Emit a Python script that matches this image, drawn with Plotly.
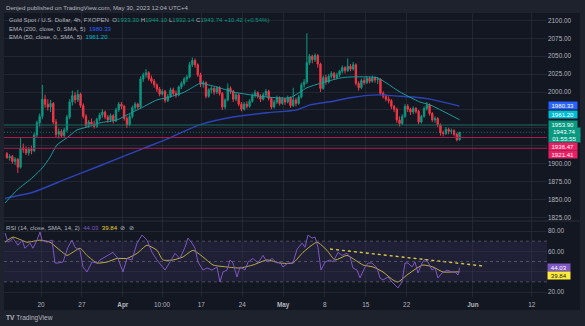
import numpy as np
import plotly.graph_objects as go

# ---- XAUUSD 4h (three bars per trading day), x = trading days from Mon 20 Mar 2023 ----
opens = [
    1914,
    1908, 1910, 1903,  1906, 1895, 1922,  1920, 1915, 1920,  1918, 1940, 1957,
    1966, 1990, 1983,  1979, 1984, 1958,  1941, 1945, 1939,  1947, 1965, 1986,
    1995, 1989, 1997,  1981, 1966, 1953,  1958, 1955, 1952,  1962, 1968, 1972,
    1965, 1961, 1967,  1960, 1975, 1983,  1980, 1963, 1954,  1966, 1978, 1983,
    1979, 2018, 2024,  2027, 2019, 2015,  2010, 2004, 1997,  2001, 1988, 1994,
    2003, 1998, 1996,  2007, 2012, 2018,  2021, 2038, 2044,  2038, 2024, 2011,
    2013, 1994, 2003,  2005, 2000, 2006,  1998, 1979, 1989,  2005, 2001, 1990,
    1996, 1983, 1976,  1983, 1980, 1987,  1995, 1999, 1994,  1990, 1996, 2001,
    1991, 1979, 1986,  1992, 1984, 1990,  1986, 1992, 1981,  1989, 1984, 1993,
    2010, 2014, 2041,  2050, 2045, 2051,  2039, 2005, 2020,  2014, 2022, 2026,
    2020, 2024, 2029,  2034, 2030, 2036,  2032, 2038, 2012,  2006, 2016, 2013,
    2019, 2015, 2020,  2017, 2018, 1998,  1994, 1990, 1988,  1980, 1976, 1961,
    1956, 1966, 1980,  1976, 1972, 1977,  1973, 1958, 1966,  1977, 1982, 1970,
    1961, 1963, 1954,  1943, 1942, 1948,  1945, 1946, 1941,
    1933.30,
]
highs = [
    1916,
    1913, 1912, 1909,  1908, 1937, 1928,  1924, 1923, 1925,  1943, 1960, 1970,
    2010, 1996, 1990,  1989, 1986, 1962,  1949, 1948, 1950,  1968, 1990, 2002,
    2000, 2003, 1999,  1984, 1969, 1961,  1963, 1960, 1964,  1971, 1976, 1974,
    1968, 1970, 1969,  1978, 1986, 1986,  1982, 1966, 1969,  1981, 1986, 1985,
    2022, 2027, 2032,  2029, 2023, 2018,  2012, 2007, 2004,  2003, 1997, 2006,
    2006, 2002, 2009,  2015, 2021, 2024,  2042, 2048, 2047,  2040, 2027, 2016,
    2015, 2005, 2008,  2007, 2008, 2008,  2000, 1991, 2012,  2008, 2003, 1999,
    1998, 1986, 1986,  1987, 1990, 1998,  2003, 2001, 1997,  1999, 2004, 2003,
    1993, 1989, 1995,  1994, 1993, 1992,  1995, 1994, 2006,  1992, 1996, 2013,
    2018, 2082, 2053,  2052, 2054, 2053,  2041, 2023, 2024,  2025, 2029, 2028,
    2027, 2031, 2037,  2036, 2047, 2039,  2042, 2040, 2015,  2019, 2020, 2022,
    2021, 2023, 2022,  2021, 2019, 2001,  1997, 1994, 1990,  1982, 1978, 1966,
    1969, 1983, 1983,  1978, 1980, 1979,  1975, 1968, 1980,  1986, 1984, 1972,
    1966, 1965, 1956,  1946, 1951, 1950,  1949, 1948, 1943,
    1944.10,
]
lows = [
    1907,
    1904, 1900, 1898,  1887, 1893, 1915,  1912, 1911, 1913,  1916, 1936, 1952,
    1962, 1978, 1974,  1972, 1955, 1936,  1935, 1936, 1937,  1944, 1962, 1981,
    1984, 1986, 1978,  1963, 1950, 1950,  1952, 1949, 1950,  1959, 1964, 1962,
    1957, 1958, 1956,  1958, 1972, 1976,  1960, 1950, 1952,  1963, 1974, 1976,
    1977, 2014, 2020,  2016, 2012, 2006,  2000, 1994, 1995,  1985, 1986, 1992,
    1995, 1992, 1994,  2004, 2009, 2014,  2019, 2035, 2034,  2021, 2007, 2006,
    1991, 1992, 1998,  1996, 1997, 1995,  1975, 1976, 1987,  1997, 1986, 1987,
    1980, 1973, 1974,  1977, 1978, 1985,  1992, 1991, 1986,  1988, 1993, 1988,
    1976, 1977, 1983,  1981, 1982, 1982,  1984, 1978, 1979,  1980, 1982, 1991,
    2006, 2011, 2038,  2040, 2042, 2034,  2000, 2003, 2010,  2012, 2019, 2017,
    2018, 2021, 2026,  2026, 2028, 2029,  2030, 2009, 2002,  2004, 2010, 2011,
    2012, 2013, 2013,  2011, 1996, 1991,  1987, 1984, 1976,  1972, 1957, 1952,
    1954, 1964, 1972,  1968, 1969, 1970,  1955, 1956, 1964,  1974, 1967, 1958,
    1957, 1951, 1939,  1938, 1940, 1941,  1941, 1938, 1931,
    1932.14,
]
closes = [
    1908,
    1910, 1903, 1906,  1895, 1922, 1920,  1915, 1920, 1918,  1940, 1957, 1966,
    1990, 1983, 1979,  1984, 1958, 1941,  1945, 1939, 1947,  1965, 1986, 1995,
    1989, 1997, 1981,  1966, 1953, 1958,  1955, 1952, 1962,  1968, 1972, 1965,
    1961, 1967, 1960,  1975, 1983, 1980,  1963, 1954, 1966,  1978, 1983, 1979,
    2018, 2024, 2027,  2019, 2015, 2010,  2004, 1997, 2001,  1988, 1994, 2003,
    1998, 1996, 2007,  2012, 2018, 2021,  2038, 2044, 2038,  2024, 2011, 2013,
    1994, 2003, 2005,  2000, 2006, 1998,  1979, 1989, 2005,  2001, 1990, 1996,
    1983, 1976, 1983,  1980, 1987, 1995,  1999, 1994, 1990,  1996, 2001, 1991,
    1979, 1986, 1992,  1984, 1990, 1986,  1992, 1981, 1989,  1984, 1993, 2010,
    2014, 2041, 2050,  2045, 2051, 2039,  2005, 2020, 2014,  2022, 2026, 2020,
    2024, 2029, 2034,  2030, 2036, 2032,  2038, 2012, 2006,  2016, 2013, 2019,
    2015, 2020, 2017,  2018, 1998, 1994,  1990, 1988, 1980,  1976, 1961, 1956,
    1966, 1980, 1976,  1972, 1977, 1973,  1958, 1966, 1977,  1982, 1970, 1961,
    1963, 1954, 1943,  1942, 1948, 1945,  1946, 1941, 1933.30,
    1943.74,
]
bar_time = np.arange(len(closes)) / 3 - 25 / 6

# EMA 200 / EMA 50 (close)
ema200_t = [-4.40, -3.79, -0.98, 3.18, 7.21, 12.47, 15.77, 19.19, 23.47, 27.63, 31.30,
            32.89, 35.70, 37.78, 41.08, 43.89, 45.48, 47.56, 51.17]
ema200_v = [1851.5, 1853, 1860, 1879, 1897, 1921, 1936, 1953.5, 1965, 1971, 1975,
            1982, 1987, 1992, 1996, 1994, 1993, 1990, 1980.33]
ema50_t = [-4.40, -2.93, -0.98, 0.24, 1.10, 1.96, 3.18, 4.40, 5.62, 7.21, 9.29, 10.51,
           12.47, 14.18, 15.40, 17.36, 19.07, 19.44, 21.52, 23.47, 27.63, 30.44, 32.52,
           34.11, 36.55, 37.78, 41.08, 42.30, 43.89, 46.33, 47.56, 51.17]
ema50_v = [1845, 1863, 1881, 1895, 1909, 1926, 1936, 1947, 1951, 1957, 1961, 1968,
           1979, 1989, 1992, 1999, 2010, 2012, 2007, 2000, 1993, 1992, 2006,
           2012, 2019.5, 2021, 2020, 2012, 2000, 1986, 1982, 1961.20]

# RSI (14) and its SMA (14)
rsi_t = [-4.40, -4.03, -3.42, -2.81, -2.32, -1.96, -1.34, -0.98, -0.49, -0.12, 0.12, 0.73,
         1.34, 1.71, 2.08, 2.69, 3.30, 3.79, 4.16, 4.77, 5.13, 5.62, 6.23, 6.85, 7.21,
         8.07, 8.80, 9.41, 10.02, 10.51, 11.12, 11.74, 12.35, 12.96, 13.57, 14.18, 14.79,
         15.16, 15.77, 16.38, 16.99, 17.60, 17.97, 18.46, 18.83, 19.19, 19.80, 20.29,
         20.90, 21.52, 21.88, 22.25, 22.74, 23.11, 23.47, 23.96, 24.33, 24.94, 25.31,
         25.92, 26.53, 27.14, 27.63, 28.24, 28.85, 29.21, 29.58, 30.19, 30.80, 31.30,
         31.91, 32.27, 32.64, 33.13, 33.50, 33.86, 34.23, 34.72, 35.33, 35.70, 36.31,
         36.80, 37.41, 37.78, 38.14, 38.63, 39.00, 39.61, 39.98, 40.46, 41.08, 41.44,
         41.81, 42.42, 42.91, 43.52, 43.64, 44.13, 44.50, 44.87, 45.35, 45.72, 46.09,
         46.58, 46.94, 47.31, 47.80, 48.17, 48.53, 49.02, 49.63, 50.24, 50.61, 50.98, 51.17]
rsi_v = [78, 69, 73, 66, 71, 63, 68, 63, 71, 79, 71, 69,
         71, 48.5, 48.5, 49.5, 64, 71, 64, 61, 44.6, 39.7, 49.5, 48.5, 51.5,
         56, 59, 53, 39.7, 53, 51.5, 68, 76, 71, 59, 51.5, 44.6,
         41.6, 49.5, 58, 53, 64, 73, 68, 63, 49.5, 41.6, 43.6,
         41.6, 44.6, 29.8, 39.7, 41.6, 51.5, 48.5, 34.8, 44.6, 41.6, 49.5,
         53, 48.5, 56, 49.5, 53, 48.5, 49.5, 44.6, 48.5, 48.5, 62,
         68, 64, 76, 73, 74, 64, 41.6, 49.5, 51.5, 49.5, 59,
         56, 58, 54.5, 43.6, 41.6, 33.8, 44.6, 48.5, 48.5, 43.6, 33.8,
         31.8, 34.8, 29.8, 25, 24, 29.8, 48.5, 48.5, 44.6, 49.5, 38.7,
         48.5, 52.5, 49.5, 41.6, 43.6, 33.8, 38.7, 41.6, 39.7, 39.7, 36.7, 44.03]
rsi_ma_t = [-4.40, -3.42, -1.71, -0.12, 1.10, 2.32, 3.18, 4.77, 5.62, 6.85, 8.07, 9.29,
            10.51, 11.74, 12.96, 14.18, 14.91, 16.14, 17.36, 18.58, 19.80, 21.03, 22.74,
            24.33, 25.92, 27.63, 29.22, 30.80, 32.03, 33.74, 34.96, 35.94, 37.41, 38.39,
            39.36, 40.59, 41.81, 43.03, 43.64, 44.74, 45.97, 46.70, 47.92, 49.14, 50.37, 51.17]
rsi_ma_v = [69, 74, 69, 71, 69, 61, 56, 63, 56, 48.5, 49.5, 53,
            53, 58, 66, 61, 51.5, 51.5, 54.5, 61, 54.5, 46.6, 44.6,
            43.6, 46.6, 51.5, 48.5, 48.5, 59, 69, 61, 51.5, 56, 51.5,
            46.6, 44.6, 39.7, 31.8, 29.8, 36.7, 43.6, 46.6, 44.6, 39.7, 39.7, 39.84]
rsi_trend_t = [35.33, 54.03]
rsi_trend_v = [62.3, 45.6]

# horizontal levels and axis ticks
level_green = 1953.90
levels_red = [1936.47, 1921.41]
last_price = 1943.74
price_ticks = list(range(1825, 2101, 25))
price_hidden = {1925, 1950, 1975}      # labels sitting under the price tags
rsi_ticks = [20, 40, 60, 80]
rsi_hidden = {40}
tick_days = [0, 5.0, 10.0, 14.8, 19.6, 24.6, 29.6, 34.7, 39.7, 44.7, 52.8, 60.0]
tick_text = ["20", "27", "<b>Apr</b>", "10:00", "17", "24", "<b>May</b>", "8", "15", "22",
             "<b>Jun</b>", "12"]

# ---- styling ----
W, H = 585, 326
PL, PR, PT, PB = 4, 547, 13, 297      # plot area (pixels)
SEP = 221                             # price / RSI split
FRAME = "#1e222d"
PANEL = "#131722"
GRID = "rgba(54,58,69,0.45)"
TXT = "#b2b5be"
UP, DOWN = "#089981", "#f23645"
RED_TAG = "#e91e63"
FONT = "Liberation Sans, Arial, sans-serif"


def px_x(px):
    return (px - PL) / (PR - PL)


def px_y(py):
    return (PB - py) / (PB - PT)


split = px_y(SEP)

fig = go.Figure()
fig.add_trace(go.Candlestick(
    x=bar_time, open=opens, high=highs, low=lows, close=closes,
    increasing=dict(line=dict(color=UP, width=1), fillcolor=UP),
    decreasing=dict(line=dict(color=DOWN, width=1), fillcolor=DOWN),
    whiskerwidth=0, showlegend=False, hoverinfo="skip", xaxis="x", yaxis="y"))
fig.add_trace(go.Scatter(x=ema200_t, y=ema200_v, mode="lines",
                         line=dict(color="#2c44b8", width=1.4, shape="spline", smoothing=0.6),
                         showlegend=False, hoverinfo="skip", xaxis="x", yaxis="y"))
fig.add_trace(go.Scatter(x=ema50_t, y=ema50_v, mode="lines",
                         line=dict(color="#179c9e", width=1, shape="spline", smoothing=0.6),
                         showlegend=False, hoverinfo="skip", xaxis="x", yaxis="y"))
fig.add_trace(go.Scatter(x=rsi_ma_t, y=rsi_ma_v, mode="lines",
                         line=dict(color="#bfae45", width=1, shape="spline", smoothing=0.5),
                         showlegend=False, hoverinfo="skip", xaxis="x", yaxis="y2"))
fig.add_trace(go.Scatter(x=rsi_t, y=rsi_v, mode="lines",
                         line=dict(color="#7e57c2", width=1),
                         showlegend=False, hoverinfo="skip", xaxis="x", yaxis="y2"))
fig.add_trace(go.Scatter(x=rsi_trend_t, y=rsi_trend_v, mode="lines",
                         line=dict(color="#d8c647", width=1.4, dash="3px,3px"),
                         showlegend=False, hoverinfo="skip", xaxis="x", yaxis="y2"))

shapes = [
    dict(type="rect", xref="paper", yref="paper", x0=px_x(4), x1=px_x(580),
         y0=px_y(310), y1=px_y(13), fillcolor=PANEL, line=dict(width=0), layer="below"),
    dict(type="rect", xref="paper", yref="y2", x0=0, x1=1, y0=30, y1=70,
         fillcolor="rgba(126,87,194,0.12)", line=dict(width=0), layer="below"),
    dict(type="line", xref="paper", yref="paper", x0=px_x(4), x1=px_x(580),
         y0=split, y1=split, line=dict(color="#2a2e39", width=1)),
]
for lv in (70, 50, 30):
    shapes.append(dict(type="line", xref="paper", yref="y2", x0=0, x1=1, y0=lv, y1=lv,
                       line=dict(color="rgba(120,123,134,0.55)", width=1, dash="3px,3px")))
shapes.append(dict(type="line", xref="paper", yref="y", x0=0, x1=1,
                   y0=level_green, y1=level_green, line=dict(color="#1d6b5e", width=1)))
shapes.append(dict(type="line", xref="paper", yref="y", x0=0, x1=1,
                   y0=last_price, y1=last_price,
                   line=dict(color="rgba(8,153,129,0.7)", width=1, dash="1px,2px")))
for lv in levels_red:
    shapes.append(dict(type="line", xref="paper", yref="y", x0=0, x1=1, y0=lv, y1=lv,
                       line=dict(color="#a81d4c", width=1)))

ann = []


def text(px, py, s, size=6.1, color=TXT):
    ann.append(dict(xref="paper", yref="paper", x=px_x(px), y=px_y(py), text=s,
                    showarrow=False, xanchor="left", yanchor="middle", borderpad=0,
                    font=dict(family=FONT, size=size, color=color)))


def tag(value, s, bg, fg="#ffffff", yshift=0, yref="y", width=27, px=548):
    ann.append(dict(xref="paper", yref=yref, x=px_x(px), y=value, text=s, showarrow=False,
                    xanchor="left", yanchor="middle", yshift=yshift, bgcolor=bg,
                    width=width, height=6.2, borderpad=0.3, align="center",
                    font=dict(family=FONT, size=6.1, color=fg)))


def g(v):
    return f"<span style='color:{UP}'>{v}</span>"


text(5, 7, "Denjed published on TradingView.com, May 30, 2023 12:04 UTC+4")
text(8, 20, "Gold Spot / U.S. Dollar, 4h, FXOPEN  O" + g("1933.30") + " H" + g("1944.10")
     + " L" + g("1932.14") + " C" + g("1943.74") + " " + g("+10.42 (+0.54%)"))
text(8, 28.5, "EMA (200, close, 0, SMA, 5)  <span style='color:#2962ff'>1980.33</span>")
text(8, 36, "EMA (50, close, 0, SMA, 5)  <span style='color:#00bcd4'>1961.20</span>")
text(5, 227, "RSI (14, close, SMA, 14, 2)  <span style='color:#7e57c2'>44.03</span>  "
     "<span style='color:#e6d32e'>39.84</span>  ⊘  ⊘")
text(5, 318, "<b>TV</b> TradingView", size=6.6)

tag(1980.33, "1980.33", "#2962ff", yshift=0.3)
tag(1961.20, "1961.20", "#00bcd4", yshift=4.8)
tag(level_green, "1953.90", UP, yshift=1)
tag(last_price, "1943.74", UP, yshift=0.6, width=30)
tag(last_price, "01:55:55", UP, yshift=-6, width=30)
tag(levels_red[0], "1936.47", RED_TAG, yshift=-9.2)
tag(levels_red[1], "1921.41", RED_TAG, yshift=-5.9)
tag(44.03, "44.03", "#7e57c2", yref="y2", yshift=0.3, width=21, px=547)
tag(39.84, "39.84", "#ffeb3b", fg="#131722", yref="y2", yshift=-3.5, width=21, px=547)

axis_font = dict(family=FONT, size=6.4, color=TXT)
fig.update_layout(
    width=W, height=H, margin=dict(l=PL, r=W - PR, t=PT, b=H - PB),
    paper_bgcolor=FRAME, plot_bgcolor=PANEL, showlegend=False,
    shapes=shapes, annotations=ann,
    xaxis=dict(range=[(PL - 41) / 8.18, (PR - 41) / 8.18], anchor="y2",
               tickmode="array", tickvals=tick_days, ticktext=tick_text,
               showgrid=True, gridcolor=GRID, gridwidth=1, zeroline=False,
               showline=False, ticks="", tickfont=axis_font, ticklabelstandoff=3,
               rangeslider=dict(visible=False), fixedrange=True),
    yaxis=dict(domain=[split, 1], range=[2000 - (SEP - 92) / 0.716, 2000 + (92 - PT) / 0.716],
               side="right", anchor="x", tickmode="array", tickvals=price_ticks,
               ticktext=["" if v in price_hidden else f"{v:.2f}" for v in price_ticks],
               showgrid=True, gridcolor=GRID,
               zeroline=False, showline=False, ticks="", tickfont=axis_font, fixedrange=True),
    yaxis2=dict(domain=[0, split], range=[80 - (PB - 231) / 1.0167, 80 + (231 - SEP) / 1.0167],
                side="right", anchor="x", tickmode="array", tickvals=rsi_ticks,
                ticktext=["" if v in rsi_hidden else f"{v:.2f}" for v in rsi_ticks],
                showgrid=True, gridcolor=GRID,
                zeroline=False, showline=False, ticks="", tickfont=axis_font, fixedrange=True),
)

fig.write_html("out.html")
